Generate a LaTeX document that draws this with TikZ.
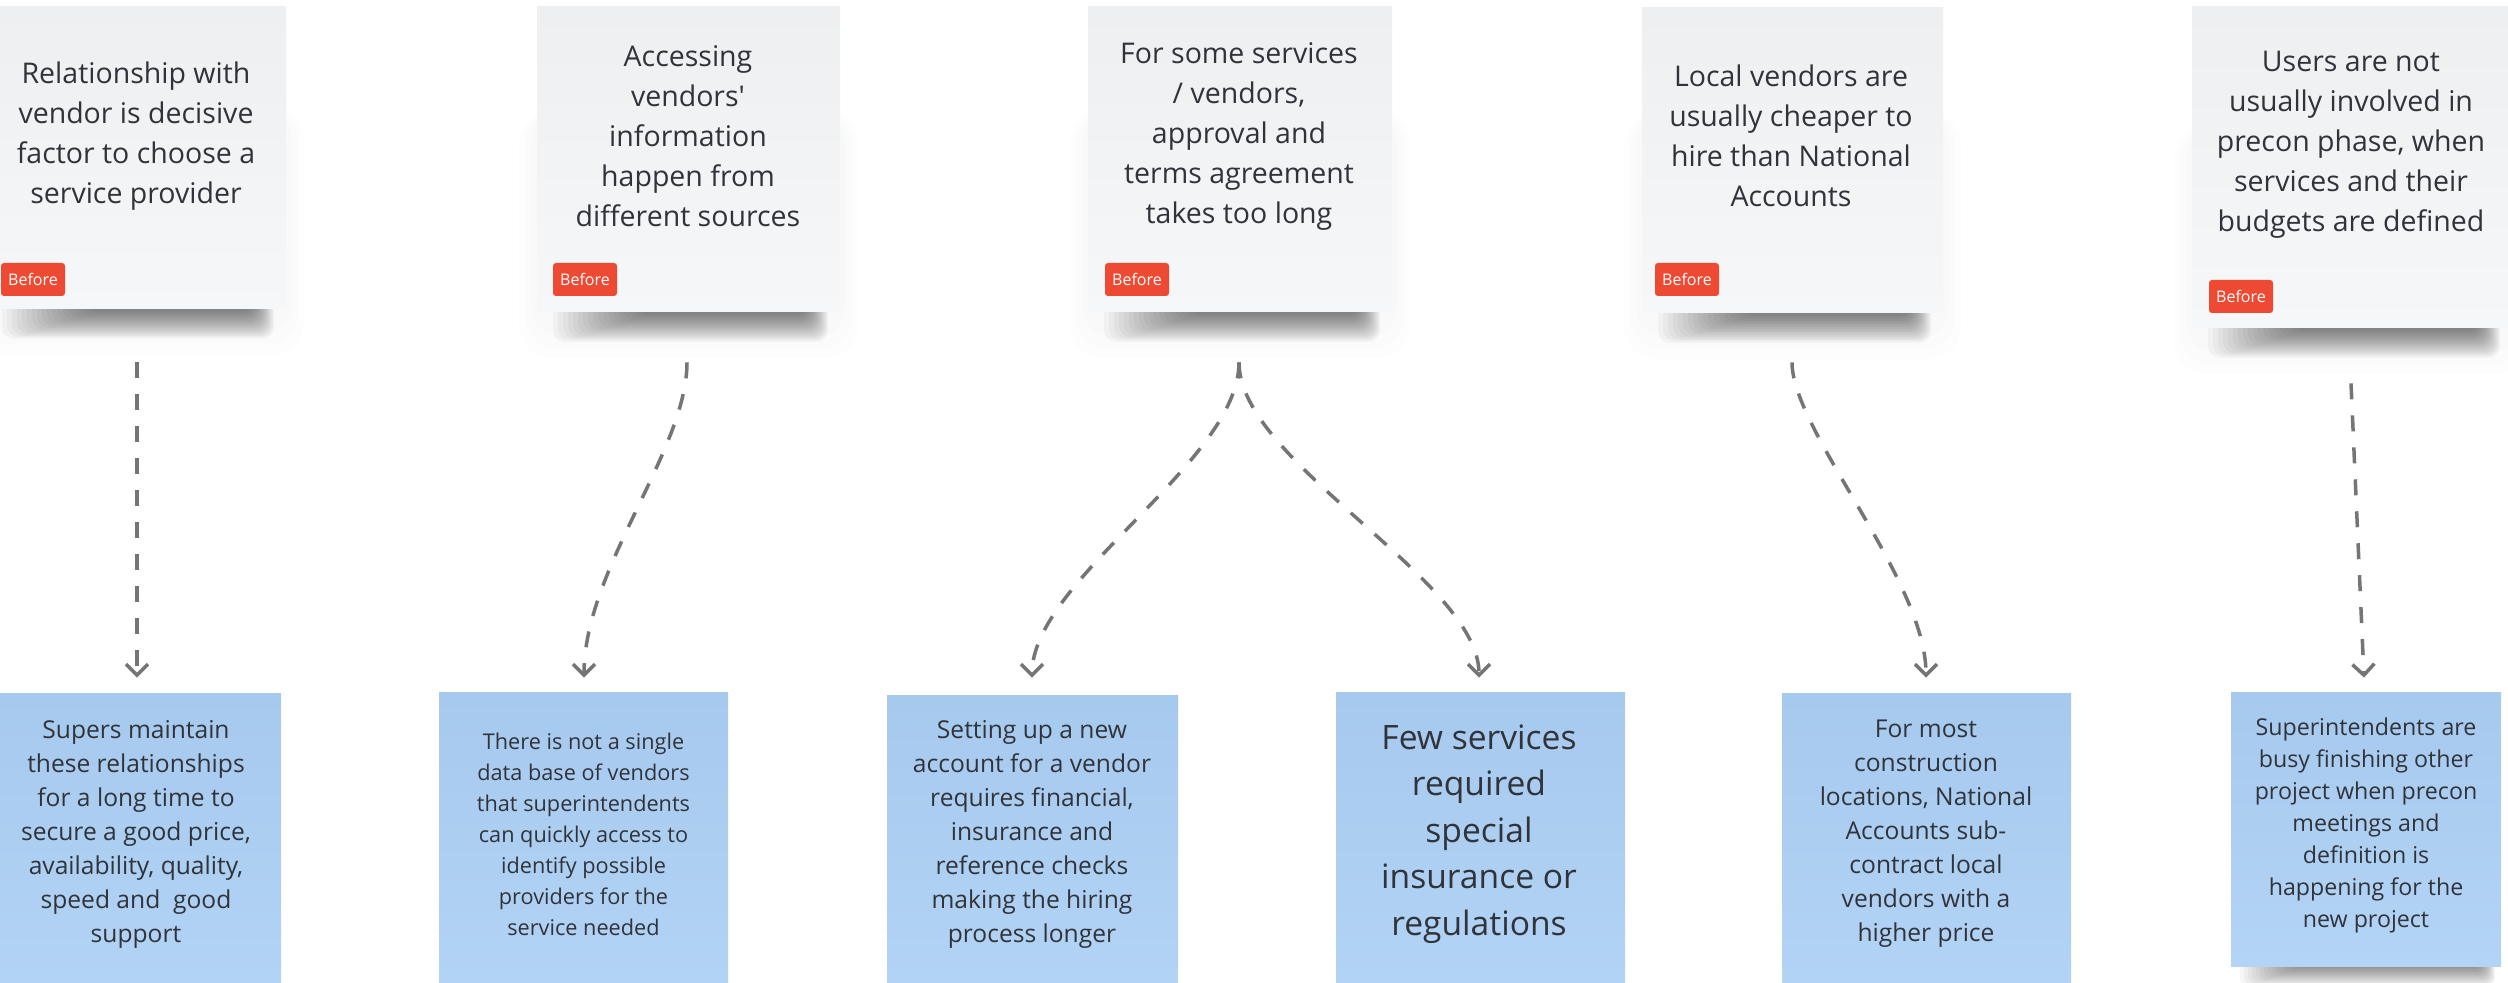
\documentclass[tikz,border=0pt]{standalone}
\usepackage{fontspec}
\setmainfont{Open Sans}[Ligatures=TeXOff]
\usetikzlibrary{calc,arrows.meta}

\definecolor{paperA}{HTML}{EEEFF1}
\definecolor{paperB}{HTML}{F6F7F8}
\definecolor{skyA}{HTML}{A6C9EE}
\definecolor{skyB}{HTML}{B3D4F5}
\definecolor{tagred}{HTML}{EE4A33}
\definecolor{ink}{HTML}{30343A}
\definecolor{linkgrey}{HTML}{757575}

% soft curled-paper shadow under a note: left, right, bottom (px)
\newcommand\papershadow[3]{%
  \foreach \k in {0,...,17}{%
    \fill[black, opacity=0.03, rounded corners=6pt]
      (#1+16+5*\k, #3-12) rectangle (#2-12-1.2*\k, #3+30-1.6*\k);
  }%
  \foreach \k in {1,...,3}{%
    \fill[black, opacity=0.006, rounded corners=16pt]
      (#1-6*\k, #3-200) rectangle (#2+6*\k, #3+16+10*\k);
  }%
}

\begin{document}
\begin{tikzpicture}[x=0.5pt, y=-0.5pt,
  paper/.style={rectangle, inner sep=0pt, top color=paperA, bottom color=paperB},
  sky/.style={rectangle, inner sep=0pt, top color=skyA, bottom color=skyB},
  greytext/.style={align=center, text=ink, inner sep=0pt, font=\fontsize{14.25}{20}\selectfont},
  bluetext/.style={align=center, text=ink, inner sep=0pt},
  badge/.style={rectangle, fill=tagred, rounded corners=1.5pt, text=white, inner sep=0pt,
    minimum width=32pt, minimum height=16.5pt, font=\fontsize{8}{9}\selectfont},
  conn/.style={draw=linkgrey, line width=1.75pt, dash pattern=on 8pt off 8pt,
    -{Straight Barb[length=5.5pt, width=11pt, line width=1.75pt]}}
]
\clip (0,0) rectangle (2508,983);
\fill[white] (0,0) rectangle (2508,983);

% shadows beneath the grey notes
\papershadow{-14}{286}{309}
\papershadow{537}{840}{312}
\papershadow{1088}{1392}{312}
\papershadow{1642}{1943}{313}
\papershadow{2192}{2512}{328}
% shadow beneath the last blue note
\foreach \k in {0,...,13}{%
  \fill[black, opacity=0.035, rounded corners=4pt]
    (2240+4*\k, 956) rectangle (2495-1*\k, 986-1.4*\k);
}

% grey problem notes
\node[paper, minimum width=150pt,   minimum height=151pt]   (g1) at (136,158) {};
\node[paper, minimum width=151.5pt, minimum height=152.5pt] (g2) at (688.5,159.5) {};
\node[paper, minimum width=152pt,   minimum height=152.5pt] (g3) at (1240,159.5) {};
\node[paper, minimum width=150.5pt, minimum height=152.5pt] (g4) at (1792.5,160.5) {};
\node[paper, minimum width=160pt,   minimum height=160.5pt] (g5) at (2352,167.5) {};

\node[greytext] (g1t) at (136,136) {Relationship with\\vendor is decisive\\factor to choose a\\service provider};
\node[greytext] (g2t) at (688,136) {Accessing\\vendors\symbol{39}\\information\\happen from\\different sources};
\node[greytext] (g3t) at (1239,136) {For some services\\/ vendors,\\approval and\\terms agreement\\takes too long};
\node[greytext] (g4t) at (1791,136) {Local vendors are\\usually cheaper to\\hire than National\\Accounts};
\node[greytext] (g5t) at (2351,145) {Users are not\\usually involved in\\precon phase, when\\services and their\\budgets are defined};

\node[badge, anchor=south west] (r1) at ($(g1.south west)+(15,-13)$) {Before};
\node[badge, anchor=south west] (r2) at ($(g2.south west)+(16,-16)$) {Before};
\node[badge, anchor=south west] (r3) at ($(g3.south west)+(17,-16)$) {Before};
\node[badge, anchor=south west] (r4) at ($(g4.south west)+(13,-17)$) {Before};
\node[badge, anchor=south west] (r5) at ($(g5.south west)+(17,-15)$) {Before};

% blue consequence notes
\node[sky, minimum width=145pt,   minimum height=158pt]   (b1) at (136,852) {};
\node[sky, minimum width=144.5pt, minimum height=158.5pt] (b2) at (583.5,851.5) {};
\node[sky, minimum width=145.5pt, minimum height=157pt]   (b3) at (1032.5,853) {};
\node[sky, minimum width=144.5pt, minimum height=158.5pt] (b4) at (1480.5,851.5) {};
\node[sky, minimum width=144.5pt, minimum height=158pt]   (b5) at (1926.5,852) {};
\node[sky, minimum width=135pt,   minimum height=136.5pt] (b6) at (2366,829.5) {};

\node[bluetext, font=\fontsize{12.3}{17}\selectfont] (b1t) at (136,834)
  {Supers maintain\\these relationships\\for a long time to\\secure a good price,\\availability, quality,\\speed and\ \ good\\support};
\node[bluetext, font=\fontsize{10.85}{15.5}\selectfont] (b2t) at (583.5,834)
  {There is not a single\\data base of vendors\\that superintendents\\can quickly access to\\identify possible\\providers for the\\service needed};
\node[bluetext, font=\fontsize{12.3}{17}\selectfont] (b3t) at (1032,834)
  {Setting up a new\\account for a vendor\\requires financial,\\insurance and\\reference checks\\making the hiring\\process longer};
\node[bluetext, font=\fontsize{16.8}{23.25}\selectfont] (b4t) at (1479,834)
  {Few services\\required\\special\\insurance or\\regulations};
\node[bluetext, font=\fontsize{12.3}{17}\selectfont] (b5t) at (1926,834)
  {For most\\construction\\locations, National\\Accounts sub-\\contract local\\vendors with a\\higher price};
\node[bluetext, font=\fontsize{11.6}{16}\selectfont] (b6t) at (2366,825)
  {Superintendents are\\busy finishing other\\project when precon\\meetings and\\definition is\\happening for the\\new project};

% connector end points in the gaps between the rows
\coordinate (s1) at ($(g1.south)+(1,53)$);
\coordinate (s2) at ($(g2.south)+(-1.5,50)$);
\coordinate (s3) at ($(g3.south)+(-1,50)$);
\coordinate (s4) at ($(g4.south)+(-0.5,49)$);
\coordinate (s5) at ($(g5.south)+(-1,55)$);
\coordinate (t1) at ($(b1.north)+(1,-16)$);
\coordinate (t2) at ($(b2.north)+(0.5,-15)$);
\coordinate (t3) at ($(b3.north)+(-0.5,-18)$);
\coordinate (t4) at ($(b4.north)+(-1.5,-15)$);
\coordinate (t5) at ($(b5.north)+(-0.5,-16)$);
\coordinate (t6) at ($(b6.north)+(-2,-15)$);

\draw[conn] (s1) -- (t1);
\draw[conn] (s2) .. controls ($(s2)+(0,88)$) and ($(t2)+(0,-108)$) .. (t2);
\draw[conn] (s3) .. controls ($(s3)+(0,100)$) and ($(t3)+(0,-98)$) .. (t3);
\draw[conn] (s3) .. controls ($(s3)+(0,100)$) and ($(t4)+(0,-98)$) .. (t4);
\draw[conn] (s4) .. controls ($(s4)+(0,68)$) and ($(t5)+(0,-98)$) .. (t5);
\draw[conn] (s5) -- (t6);
\end{tikzpicture}
\end{document}
